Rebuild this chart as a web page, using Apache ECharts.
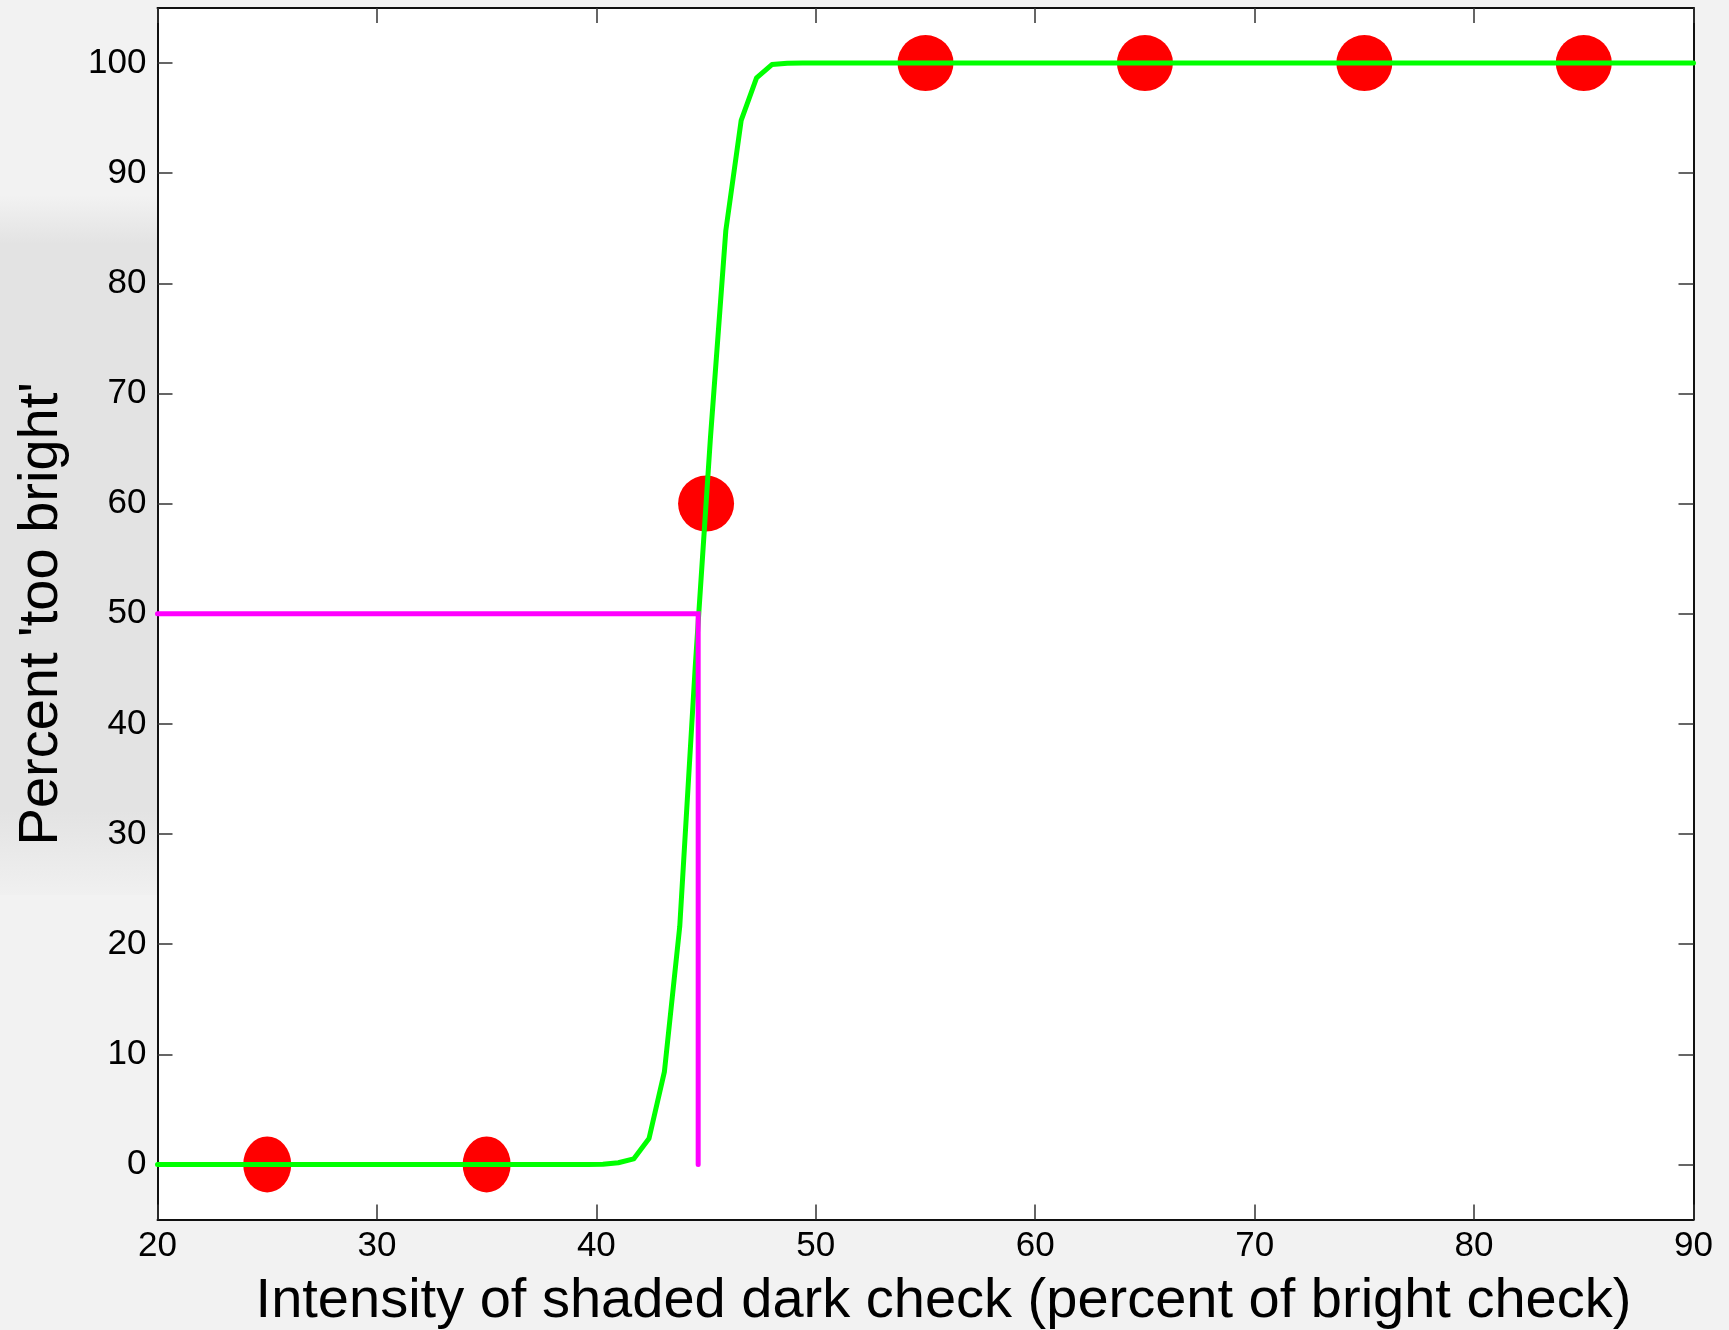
<!DOCTYPE html>
<html>
<head>
<meta charset="utf-8">
<script src="https://cdn.jsdelivr.net/npm/echarts@6/dist/echarts.min.js"></script>
<style>
html,body{margin:0;padding:0;background:#f2f2f2;}
#chart{width:1729px;height:1330px;}
</style>
</head>
<body>
<div id="chart"></div>
<script>
// ---- data ----
var xTicks = [20, 30, 40, 50, 60, 70, 80, 90];
var yTicks = [0, 10, 20, 30, 40, 50, 60, 70, 80, 90, 100];

var pointsX = [25, 35, 45, 55, 65, 75, 85];
var pointsY = [0, 0, 60, 100, 100, 100, 100];

var curveX = [20, 39.6, 40.3, 41.0, 41.7, 42.4, 43.1, 43.8, 44.5, 45.2, 45.9, 46.6, 47.3, 48.0, 48.7, 49.4, 90];
var curveY = [0, 0, 0.02, 0.15, 0.5, 2.35, 8.4, 21.6, 45, 66, 84.8, 94.8, 98.65, 99.86, 99.98, 100, 100];

var threshX = [20, 44.64, 44.64];
var threshY = [50, 50, 0];

function zip(a, b) { return a.map(function (v, i) { return [v, b[i]]; }); }

var FONT = "'Liberation Sans', Arial, Helvetica, sans-serif";
var chart = echarts.init(document.getElementById('chart'), null, { renderer: 'canvas' });

var tickStyle = { show: true, inside: true, length: 15, lineStyle: { color: '#333', width: 1.5 } };
var lineStyle = { show: true, onZero: false, lineStyle: { color: '#111', width: 2 } };

chart.setOption({
  backgroundColor: '#f2f2f2',
  animation: false,
  graphic: [{
    type: 'rect', silent: true, z: -10,
    shape: { x: 0, y: 195, width: 158, height: 700 },
    style: {
      fill: new echarts.graphic.LinearGradient(0, 0, 0, 1, [
        { offset: 0, color: '#f2f2f2' },
        { offset: 0.07, color: '#e3e3e3' },
        { offset: 0.88, color: '#e3e3e3' },
        { offset: 1, color: '#f0f0f0' }
      ])
    }
  }],
  grid: {
    left: 157.5, right: 35.5, top: 8, bottom: 110.5,
    outerBoundsMode: 'none', containLabel: false,
    show: true, backgroundColor: '#ffffff', borderWidth: 0
  },
  xAxis: [{
    type: 'value', min: 20, max: 90, interval: 10, position: 'bottom',
    axisLine: lineStyle, axisTick: tickStyle, splitLine: { show: false },
    axisLabel: { show: true, color: '#000', fontSize: 35, fontFamily: FONT, margin: 9,
      customValues: xTicks },
    name: 'Intensity of shaded dark check (percent of bright check)',
    nameLocation: 'middle', nameGap: 54,
    nameTextStyle: { color: '#000', fontSize: 56, fontFamily: FONT, padding: [0, 0, 0, 36] }
  }, {
    type: 'value', min: 20, max: 90, interval: 10, position: 'top',
    axisLine: lineStyle, axisTick: tickStyle, splitLine: { show: false },
    axisLabel: { show: false }
  }],
  yAxis: [{
    type: 'value', min: -5, max: 105, position: 'left',
    axisLine: lineStyle,
    axisTick: Object.assign({}, tickStyle, { customValues: yTicks }),
    splitLine: { show: false },
    axisLabel: { show: true, color: '#000', fontSize: 35, fontFamily: FONT, margin: 11,
      customValues: yTicks },
    name: "Percent 'too bright'",
    nameLocation: 'middle', nameGap: 88, nameRotate: 90,
    nameTextStyle: { color: '#000', fontSize: 56, fontFamily: FONT }
  }, {
    type: 'value', min: -5, max: 105, position: 'right',
    axisLine: lineStyle,
    axisTick: Object.assign({}, tickStyle, { customValues: yTicks }),
    splitLine: { show: false },
    axisLabel: { show: false }
  }],
  series: [{
    type: 'scatter', xAxisIndex: 0, yAxisIndex: 0, z: 2,
    symbol: 'circle',
    symbolSize: function (val, params) { return params.dataIndex < 2 ? [48, 56] : 56; },
    itemStyle: { color: '#ff0000', opacity: 1 },
    data: zip(pointsX, pointsY)
  }, {
    type: 'line', xAxisIndex: 0, yAxisIndex: 0, z: 3,
    showSymbol: false, symbol: 'none',
    lineStyle: { color: '#00ff00', width: 5, cap: 'round', join: 'round' },
    data: zip(curveX, curveY)
  }, {
    type: 'line', xAxisIndex: 0, yAxisIndex: 0, z: 4,
    showSymbol: false, symbol: 'none',
    lineStyle: { color: '#ff00ff', width: 5, cap: 'round', join: 'miter' },
    data: zip(threshX, threshY)
  }]
});
</script>
</body>
</html>
